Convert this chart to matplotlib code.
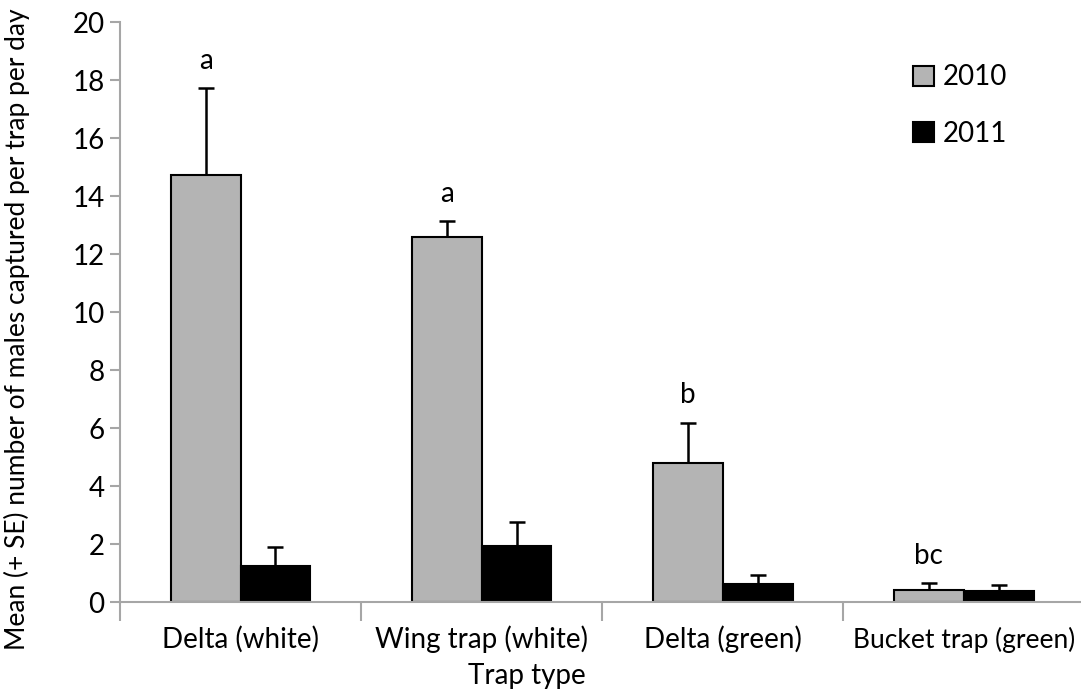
import matplotlib
matplotlib.use("Agg")
import matplotlib.pyplot as plt
import numpy as np

plt.rcParams['font.family'] = ['Lato', 'DejaVu Sans']

# mean catches and SE per trap type
traps = ["Delta (white)", "Wing trap (white)", "Delta (green)", "Bucket trap (green)"]
mean_2010 = [14.72, 12.59, 4.79, 0.43]
se_2010 = [3.00, 0.55, 1.40, 0.23]
mean_2011 = [1.25, 1.93, 0.62, 0.37]
se_2011 = [0.66, 0.85, 0.31, 0.22]
letters = ["a", "a", "b", "bc"]

AXIS_GREY = "#a6a6a6"
FS = 20

fig = plt.figure(figsize=(10.81, 6.89), dpi=100)
ax = fig.add_axes([0.111, 0.126, 0.892, 0.842])

x = np.arange(len(traps))
w = 0.29

ax.bar(x - w/2, mean_2010, w, color="#b4b4b4", edgecolor="black", linewidth=1.5,
       label="2010", zorder=2)
ax.bar(x + w/2, mean_2011, w, color="black", edgecolor="black", linewidth=1.5,
       label="2011", zorder=2)

# upper error bars only: stem from bar top, cap at mean + SE
for xs, m, s in [(x - w/2, mean_2010, se_2010), (x + w/2, mean_2011, se_2011)]:
    m = np.array(m)
    s = np.array(s)
    ax.vlines(xs, m, m + s, color="black", linewidth=1.8, zorder=3)
    ax.plot(xs, m + s, ls="none", marker="_", ms=12, mew=1.8, color="black", zorder=3)

# significance letters over the 2010 bars
for xi, m, s, lab in zip(x, mean_2010, se_2010, letters):
    ax.text(xi - w/2, m + s + 0.5, lab, ha="center", va="bottom", fontsize=FS)

ax.set_xlim(-0.5, 3.5)
ax.set_ylim(0, 20)
ax.set_yticks(np.arange(0, 21, 2))

# category labels centred, ticks on category boundaries
ax.set_xticks(np.arange(-0.5, 3.6, 1))
ax.set_xticklabels([])
ax.set_xticks(x, minor=True)
ax.set_xticklabels(traps, minor=True, fontsize=FS, va="center")
ax.get_xticklabels(minor=True)[-1].set_fontsize(19)
ax.tick_params(axis="x", which="major", length=14, width=1.5, color=AXIS_GREY)
ax.tick_params(axis="x", which="minor", length=0, pad=27)
ax.tick_params(axis="y", length=7, width=1.5, color=AXIS_GREY, labelsize=FS, pad=4)

for side in ["top", "right"]:
    ax.spines[side].set_visible(False)
for side in ["left", "bottom"]:
    ax.spines[side].set_color(AXIS_GREY)
    ax.spines[side].set_linewidth(1.5)

ax.set_ylabel("Mean (+ SE) number of males captured per trap per day", fontsize=19)
ax.yaxis.set_label_coords(-0.093, 0.47)
ax.set_xlabel("Trap type", fontsize=FS)
ax.xaxis.set_label_coords(0.422, -0.105)

ax.legend(loc="upper left", bbox_to_anchor=(0.797, 0.97), frameon=False, fontsize=FS,
          handlelength=0.75, handleheight=0.75, handletextpad=0.3, labelspacing=1.1)

fig.savefig("out.png", dpi=100)
